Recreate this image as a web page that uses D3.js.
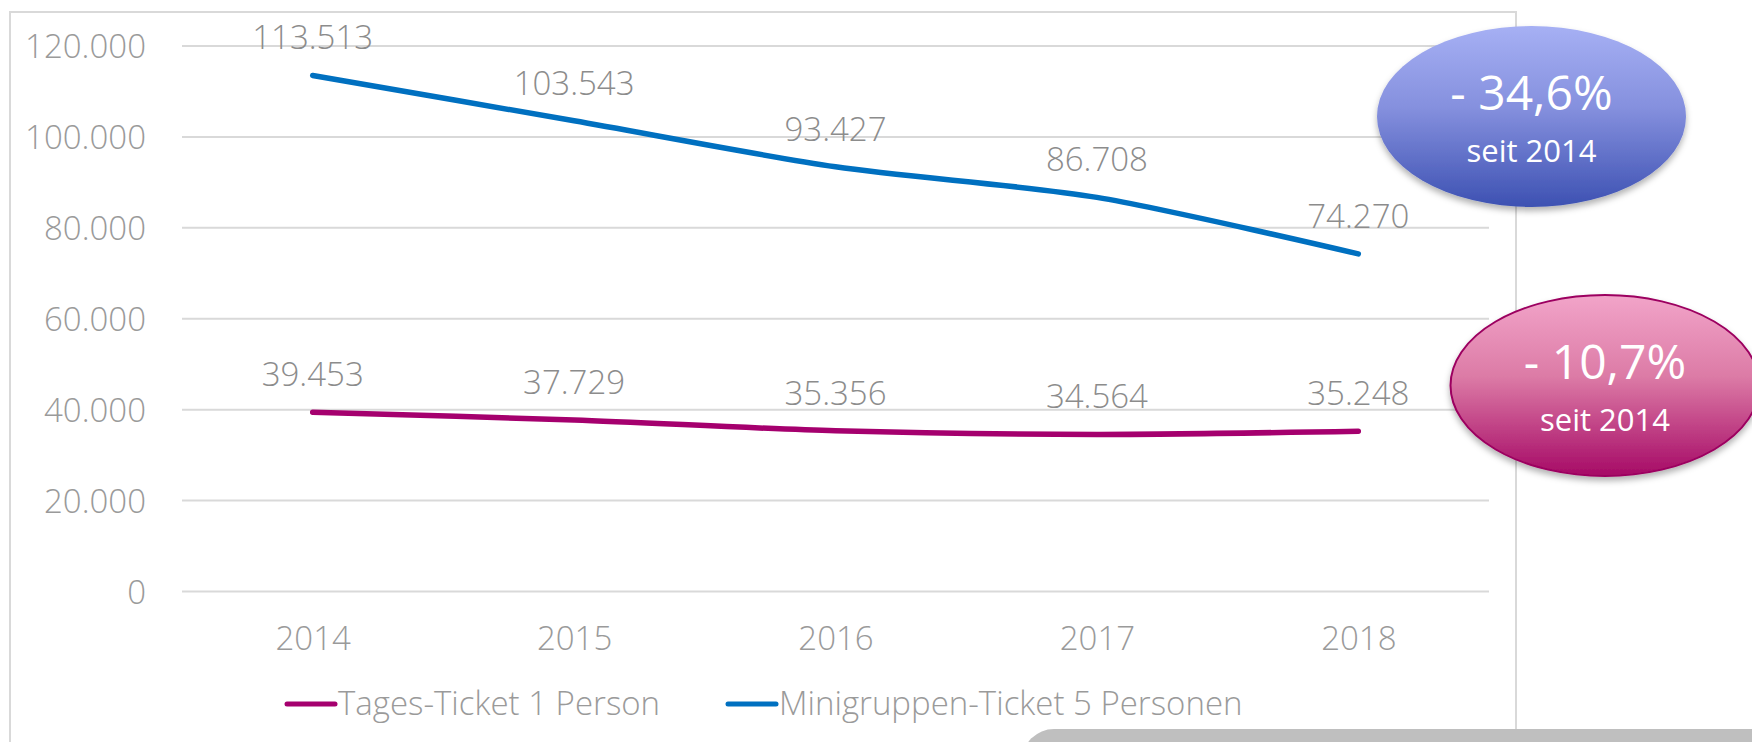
<!DOCTYPE html>
<html>
<head>
<meta charset="utf-8">
<script src="https://cdn.jsdelivr.net/npm/d3@7"></script>
<style>
  html, body { margin: 0; padding: 0; background: #fff; }
  svg { display: block; font-family: "Open Sans", sans-serif; }
</style>
</head>
<body>
<svg id="chart" width="1752" height="742"></svg>
<script>
const years = ["2014", "2015", "2016", "2017", "2018"];
const tagesTicket = [39453, 37729, 35356, 34564, 35248];
const miniTicket = [113513, 103543, 93427, 86708, 74270];
const yTicks = [0, 20000, 40000, 60000, 80000, 100000, 120000];
const seriesNames = ["Tages-Ticket 1 Person", "Minigruppen-Ticket 5 Personen"];
const badgeBig = ["- 34,6%", "- 10,7%"];
const badgeSmall = ["seit 2014", "seit 2014"];

const svg = d3.select("#chart");
const fmt = v => d3.format(",")(v).replace(/,/g, ".");
const FS = 33;

const x = d3.scalePoint().domain(years).range([182, 1489]).padding(0.5);
const y = d3.scaleLinear().domain([0, 120000]).range([591.5, 46]);

const defs = svg.append("defs");
const gBlue = defs.append("linearGradient").attr("id", "gBlue").attr("x1", 0).attr("y1", 0).attr("x2", 0).attr("y2", 1);
gBlue.append("stop").attr("offset", "0%").attr("stop-color", "#a6b0f4");
gBlue.append("stop").attr("offset", "45%").attr("stop-color", "#8590de");
gBlue.append("stop").attr("offset", "100%").attr("stop-color", "#3d51b2");
const gPink = defs.append("linearGradient").attr("id", "gPink").attr("x1", 0).attr("y1", 0).attr("x2", 0).attr("y2", 1);
gPink.append("stop").attr("offset", "0%").attr("stop-color", "#f2a4c9");
gPink.append("stop").attr("offset", "45%").attr("stop-color", "#dc7ba6");
gPink.append("stop").attr("offset", "100%").attr("stop-color", "#a60a66");
const sh = defs.append("filter").attr("id", "shadow").attr("x", "-20%").attr("y", "-20%").attr("width", "140%").attr("height", "150%");
sh.append("feDropShadow").attr("dx", 0).attr("dy", 4).attr("stdDeviation", 3).attr("flood-color", "#000").attr("flood-opacity", 0.3);

// frame
svg.append("path")
  .attr("d", "M10,742 L10,12 L1516,12 L1516,729")
  .attr("fill", "none").attr("stroke", "#d9d9d9").attr("stroke-width", 2);

// gridlines
svg.append("g").selectAll("line").data(yTicks).join("line")
  .attr("x1", 182).attr("x2", 1489)
  .attr("y1", d => y(d)).attr("y2", d => y(d))
  .attr("stroke", "#d9d9d9").attr("stroke-width", 2);

// y axis labels
const yAxis = d3.axisLeft(y).tickValues(yTicks).tickFormat(fmt).tickSize(0).tickPadding(0);
const yg = svg.append("g").attr("transform", "translate(146,0)").call(yAxis);
yg.select(".domain").remove();
yg.selectAll("text").attr("fill", "#9a9a9a").attr("font-size", FS).attr("font-weight", 300)
  .attr("font-family", "'Open Sans', sans-serif").attr("dy", "0.36em");

// x axis labels
const xAxis = d3.axisBottom(x).tickSize(0).tickPadding(0);
const xg = svg.append("g").attr("transform", "translate(0,650)").call(xAxis);
xg.select(".domain").remove();
xg.selectAll("text").attr("fill", "#9a9a9a").attr("font-size", FS).attr("font-weight", 300)
  .attr("font-family", "'Open Sans', sans-serif").attr("dy", 0).attr("y", 0);

// lines
const line = d3.line().x((d, i) => x(years[i])).y(d => y(d)).curve(d3.curveCardinal.tension(0.2));
const series = [
  { name: seriesNames[0], values: tagesTicket, color: "#a5006e" },
  { name: seriesNames[1], values: miniTicket, color: "#0070c0" }
];
series.forEach(s => {
  svg.append("path").datum(s.values).attr("d", line)
    .attr("fill", "none").attr("stroke", s.color).attr("stroke-width", 5.5)
    .attr("stroke-linecap", "round").attr("stroke-linejoin", "round");
  svg.append("g").selectAll("text").data(s.values).join("text")
    .attr("x", (d, i) => x(years[i])).attr("y", d => y(d) - 26)
    .attr("text-anchor", "middle").attr("fill", "#8c8c8c")
    .attr("font-size", FS).attr("font-weight", 300).text(d => fmt(d));
});

// legend
const legendX = [287, 728];
series.forEach((s, i) => {
  svg.append("line").attr("x1", legendX[i]).attr("x2", legendX[i] + 48)
    .attr("y1", 704).attr("y2", 704).attr("stroke", s.color).attr("stroke-width", 5).attr("stroke-linecap", "round");
  svg.append("text").attr("x", legendX[i] + 51).attr("y", 715)
    .attr("fill", "#9a9a9a").attr("font-size", FS).attr("font-weight", 300).text(s.name);
});

// bottom grey shape
svg.append("rect").attr("x", 1022).attr("y", 729).attr("width", 800).attr("height", 100)
  .attr("rx", 32).attr("ry", 32).attr("fill", "#bfbfbf");

// badges
const badges = [
  { cx: 1531.5, cy: 116.5, fill: "url(#gBlue)", stroke: "none", big: badgeBig[0], small: badgeSmall[0] },
  { cx: 1605, cy: 385.5, fill: "url(#gPink)", stroke: "#9c0060", big: badgeBig[1], small: badgeSmall[1] }
];
badges.forEach(b => {
  svg.append("ellipse").attr("cx", b.cx).attr("cy", b.cy).attr("rx", 154.5).attr("ry", 90.5)
    .attr("fill", b.fill).attr("stroke", b.stroke).attr("stroke-width", 2).attr("filter", "url(#shadow)");
  svg.append("text").attr("x", b.cx).attr("y", b.cy - 7).attr("text-anchor", "middle")
    .attr("fill", "#fff").attr("font-size", 48).attr("font-weight", 400).text(b.big);
  svg.append("text").attr("x", b.cx).attr("y", b.cy + 45).attr("text-anchor", "middle")
    .attr("fill", "#fff").attr("font-size", 31).attr("font-weight", 400).text(b.small);
});
</script>
</body>
</html>
